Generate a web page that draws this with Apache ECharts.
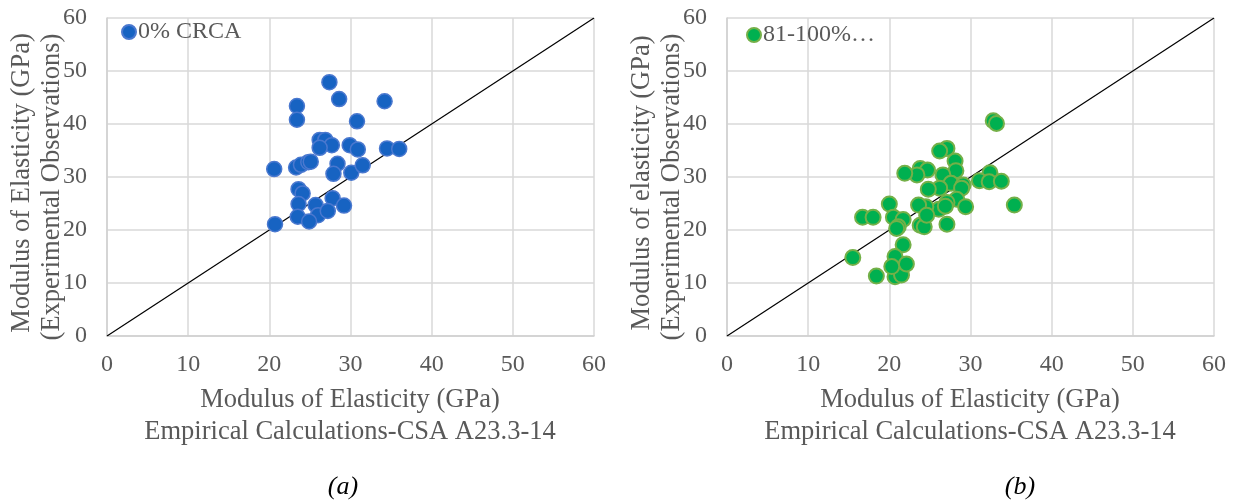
<!DOCTYPE html>
<html>
<head>
<meta charset="utf-8">
<script src="https://cdn.jsdelivr.net/npm/echarts@6/dist/echarts.min.js"></script>
<style>
html,body{margin:0;padding:0;background:#fff;}
#chart{width:1238px;height:501px;}
</style>
</head>
<body>
<div id="chart"></div>
<script>
// ---- data ----
const axisTicks = [0, 10, 20, 30, 40, 50, 60];
const parityLine = [[0, 0], [60, 60]];

const nameA = '0% CRCA';
const xA = [27.4,28.6,34.2,23.4,23.4,30.8,26.2,26.9,27.7,26.2,29.9,30.9,34.5,36.0,20.6,23.3,23.9,24.8,25.1,28.4,27.9,30.1,31.5,23.6,24.1,23.6,25.7,27.8,29.2,23.5,26.0,27.2,24.9,20.7];
const yA = [47.9,44.7,44.3,43.4,40.8,40.5,37.0,37.0,36.0,35.5,36.0,35.2,35.4,35.3,31.5,31.8,32.3,32.8,32.9,32.5,30.6,30.8,32.2,27.7,26.9,24.9,24.7,26.0,24.6,22.5,22.8,23.6,21.6,21.1];

const nameB = '81-100%…';
const xB = [32.8,33.2,27.1,26.2,28.1,28.2,23.8,24.7,23.4,21.9,26.6,32.4,31.1,32.3,33.8,27.6,29.1,26.2,24.8,28.9,28.3,27.1,29.4,35.4,26.1,24.5,23.6,20.0,16.7,18.0,20.5,21.7,21.1,23.8,24.3,27.1,24.6,26.9,15.5,18.4,20.7,21.5,21.7,20.7,22.1,20.3,20.9];
const yB = [40.6,40.1,35.4,34.9,33.0,31.2,31.6,31.3,30.4,30.7,30.4,30.8,29.3,29.1,29.2,28.8,28.5,27.9,27.7,27.9,25.8,25.2,24.4,24.7,23.9,24.4,24.7,24.9,22.4,22.4,22.4,22.0,20.6,20.9,20.6,21.1,22.8,24.5,14.8,11.3,11.2,11.5,17.2,15.0,13.6,13.1,20.3];

const yTitleA = ['Modulus of Elasticity (GPa)', '(Experimental Observations)'];
const yTitleB = ['Modulus of elasticity (GPa)', '(Experimental Observations)'];
const xTitle = ['Modulus of Elasticity (GPa)', 'Empirical Calculations-CSA A23.3-14'];
const captions = ['(a)', '(b)'];

// ---- chart ----
const FONT = '"Liberation Serif", "Times New Roman", serif';
const GRAY = '#595959';
const zip = (xs, ys) => xs.map((x, i) => [x, ys[i]]);

function valueAxis(gridIndex, isY) {
  return {
    type: 'value', gridIndex, min: axisTicks[0], max: axisTicks[axisTicks.length - 1], interval: 10,
    axisLine: { show: true, onZero: false, lineStyle: { color: '#d0d0d0', width: 1.5 } },
    axisTick: { show: false },
    splitLine: { show: true, lineStyle: { color: '#d9d9d9', width: 1.5 } },
    axisLabel: { color: GRAY, fontFamily: FONT, fontSize: 24, margin: isY ? 20 : 17 }
  };
}

const grids = [
  { left: 107, top: 18, width: 487, height: 318 },
  { left: 727, top: 18, width: 487, height: 318 }
];

function txt(text, x, y, opts) {
  return Object.assign({
    type: 'text', x, y,
    style: { text, fill: GRAY, font: '26.5px ' + FONT, align: 'center', verticalAlign: 'middle' }
  }, opts || {});
}

const graphics = [
  txt(yTitleA[0], 22, 183, { rotation: Math.PI / 2 }),
  txt(yTitleA[1], 52, 187, { rotation: Math.PI / 2 }),
  txt(yTitleB[0], 642, 183, { rotation: Math.PI / 2 }),
  txt(yTitleB[1], 672, 187, { rotation: Math.PI / 2 }),
  txt(xTitle[0], 350, 400),
  txt(xTitle[1], 350, 432),
  txt(xTitle[0], 970, 400),
  txt(xTitle[1], 970, 432),
  { type: 'text', x: 343, y: 487, style: { text: captions[0], fill: '#000', font: 'italic 26px ' + FONT, align: 'center', verticalAlign: 'middle' } },
  { type: 'text', x: 1020, y: 487, style: { text: captions[1], fill: '#000', font: 'italic 26px ' + FONT, align: 'center', verticalAlign: 'middle' } }
];

const chart = echarts.init(document.getElementById('chart'), null, { renderer: 'canvas' });
chart.setOption({
  animation: false,
  backgroundColor: '#fff',
  grid: grids,
  xAxis: [valueAxis(0, false), valueAxis(1, false)],
  yAxis: [valueAxis(0, true), valueAxis(1, true)],
  legend: [
    { data: [nameA], left: 116, top: 15, icon: 'circle', itemWidth: 14, itemHeight: 14, itemGap: 4,
      textStyle: { color: GRAY, fontFamily: FONT, fontSize: 24, padding: [0, 0, 0, -3] } },
    { data: [nameB], left: 741, top: 18, icon: 'circle', itemWidth: 14, itemHeight: 14, itemGap: 4,
      textStyle: { color: GRAY, fontFamily: FONT, fontSize: 24, padding: [0, 0, 0, -3] } }
  ],
  graphic: graphics,
  series: [
    { type: 'line', xAxisIndex: 0, yAxisIndex: 0, data: parityLine, symbol: 'none', silent: true,
      lineStyle: { color: '#000', width: 1.2 }, z: 1 },
    { type: 'line', xAxisIndex: 1, yAxisIndex: 1, data: parityLine, symbol: 'none', silent: true,
      lineStyle: { color: '#000', width: 1.2 }, z: 1 },
    { name: nameA, type: 'scatter', xAxisIndex: 0, yAxisIndex: 0, data: zip(xA, yA), symbolSize: 15, z: 3,
      itemStyle: { color: '#1763c2', borderColor: '#4a78cf', borderWidth: 1.5, opacity: 1 } },
    { name: nameB, type: 'scatter', xAxisIndex: 1, yAxisIndex: 1, data: zip(xB, yB), symbolSize: 15, z: 3,
      itemStyle: { color: '#00b050', borderColor: '#74b048', borderWidth: 2, opacity: 1 } }
  ]
});
</script>
</body>
</html>
